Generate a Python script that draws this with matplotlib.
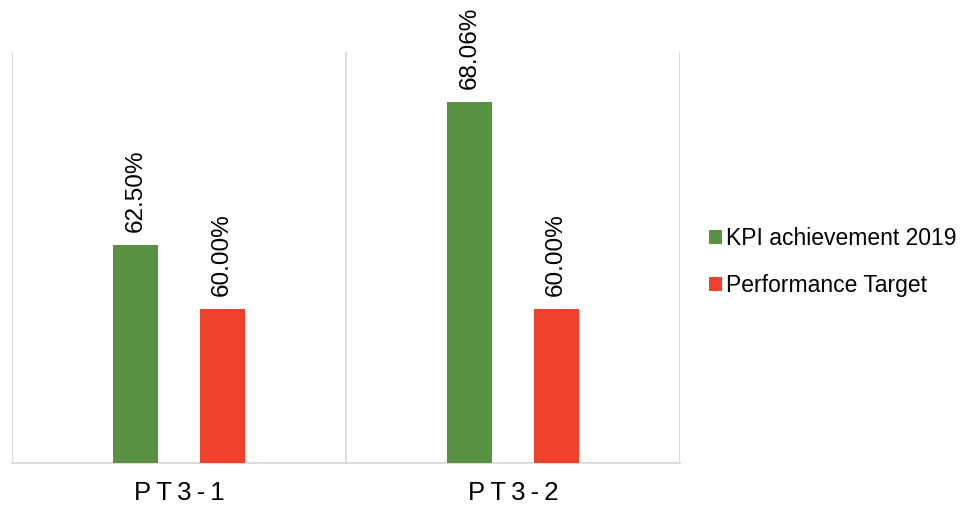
import matplotlib
matplotlib.use("Agg")
import matplotlib.pyplot as plt
from matplotlib.patches import Patch
import numpy as np

plt.rcParams['font.family'] = ['Liberation Sans', 'DejaVu Sans']

categories = ["PT3-1", "PT3-2"]
series_names = ["KPI achievement 2019", "Performance Target"]
kpi_2019 = [62.50, 68.06]
target = [60.00, 60.00]
colors = ["#589141", "#EF402C"]

fig = plt.figure(figsize=(9.68, 5.09), dpi=100)
ax = fig.add_axes([12 / 968, 1 - 463 / 509, 668 / 968, 411 / 509])

x = np.arange(len(categories))
width = 0.135
offset = 0.129
label_size = 17.5

for vals, dx, col in [(kpi_2019, -offset, colors[0]), (target, offset, colors[1])]:
    bars = ax.bar(x + dx, vals, width=width, color=col, zorder=3)
    for rect, v in zip(bars, vals):
        ax.annotate(f"{v:.2f}%", (rect.get_x() + rect.get_width() / 2, v),
                    xytext=(0, 9), textcoords="offset points",
                    rotation=90, ha="center", va="bottom",
                    fontsize=label_size, color="#000000")

ax.set_xlim(-0.5, len(categories) - 0.5)
ax.set_ylim(54, 70)

# category separators
for b in np.arange(-0.5, len(categories), 1.0):
    ax.axvline(b, color="#d9d9d9", lw=1.3, zorder=1)

for s in ["left", "right", "top"]:
    ax.spines[s].set_visible(False)
ax.spines["bottom"].set_color("#d9d9d9")
ax.spines["bottom"].set_linewidth(1.3)
ax.set_yticks([])
ax.set_xticks(x)
ax.set_xticklabels(["\u2009".join(c) for c in categories], fontsize=18.5)
ax.tick_params(axis="x", length=0, pad=13)

handles = [Patch(facecolor=c, edgecolor="none") for c in colors]
fig.legend(handles, series_names, loc="center left",
           bbox_to_anchor=(700 / 968, 1 - 262 / 509), frameon=False,
           fontsize=16.5, handlelength=0.55, handleheight=0.55,
           handletextpad=0.2, labelspacing=1.05, borderaxespad=0)

fig.savefig("out.png", dpi=100)
